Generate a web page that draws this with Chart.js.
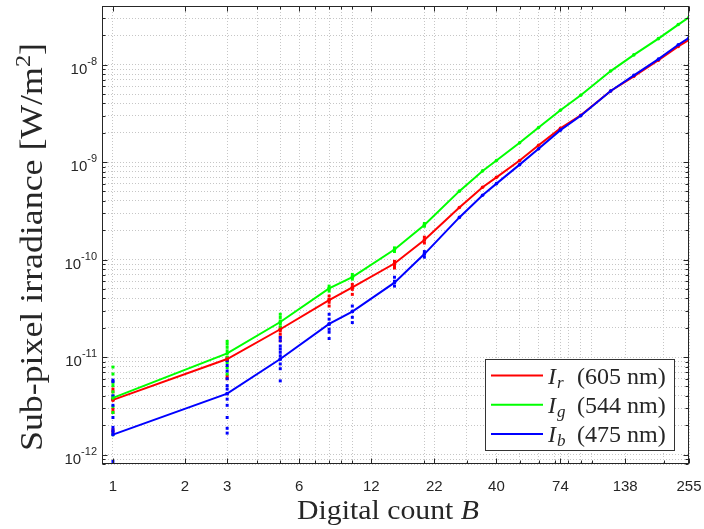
<!DOCTYPE html>
<html>
<head>
<meta charset="utf-8">
<script src="https://cdn.jsdelivr.net/npm/chart.js@4.4.1/dist/chart.umd.min.js"></script>
<style>
    html, body { margin: 0; padding: 0; background: #fff; }
    #wrap { width: 704px; height: 529px; }
</style>
</head>
<body>
<div id="wrap"><canvas id="chart" width="704" height="529"></canvas></div>
<script>
// digital counts where the mean irradiance was measured
const digitalCounts = [1, 3, 5, 8, 10, 15, 20, 28, 35, 40, 50, 60, 74, 90, 120, 150, 190, 230, 255];

// mean sub-pixel irradiance per channel [W/m^2]
const irradianceRed = [3.64e-12, 9.55e-12, 1.93e-11, 3.85e-11, 5.19e-11, 9.12e-11, 1.59e-10, 3.43e-10, 5.52e-10, 6.98e-10,
    1.04e-9, 1.49e-9, 2.22e-9, 3.03e-9, 5.37e-9, 7.59e-9, 1.11e-8, 1.54e-8, 1.80e-8];
const irradianceGreen = [3.81e-12, 1.09e-11, 2.29e-11, 5.07e-11, 6.61e-11, 1.27e-10, 2.27e-10, 5.04e-10, 8.13e-10, 1.04e-9,
    1.58e-9, 2.27e-9, 3.41e-9, 4.86e-9, 8.6e-9, 1.26e-8, 1.85e-8, 2.58e-8, 3.06e-8];
const irradianceBlue = [1.60e-12, 4.22e-12, 9.55e-12, 2.19e-11, 2.93e-11, 5.80e-11, 1.14e-10, 2.71e-10, 4.57e-10, 6.02e-10,
    9.43e-10, 1.37e-9, 2.13e-9, 2.99e-9, 5.37e-9, 7.78e-9, 1.14e-8, 1.60e-8, 1.89e-8];

// individual sub-pixel readings at the low counts
const spreadCounts = [1, 3, 5, 8, 10, 15, 20];
const spreadRed = [
    [4.7e-12, 4.4e-12, 3.6e-12, 2.9e-12, 2.7e-12, 1.8e-12, 1.7e-12],
    [9.9e-12, 9.55e-12, 9.2e-12, 6.4e-12, 6.0e-12],
    [2.01e-11, 1.86e-11, 1.72e-11, 1.6e-11, 1.47e-11],
    [4.23e-11, 3.9e-11, 3.65e-11, 3.34e-11],
    [5.57e-11, 5.2e-11, 4.95e-11, 4.4e-11],
    [9.6e-11, 9.1e-11, 8.6e-11, 8.2e-11],
    [1.7e-10, 1.59e-10, 1.48e-10],
];
const spreadGreen = [
    [7.9e-12, 6.7e-12, 5.5e-12, 5.1e-12, 4.4e-12, 4.0e-12, 3.7e-12, 3.1e-12, 2.7e-12, 1.6e-12],
    [1.45e-11, 1.36e-11, 1.26e-11, 1.16e-11, 1.0e-11, 8.8e-12, 7.8e-12, 6.7e-12],
    [2.75e-11, 2.55e-11, 2.35e-11, 2.17e-11, 2.01e-11],
    [5.35e-11, 5.07e-11, 4.75e-11],
    [7.05e-11, 6.6e-11, 6.3e-11],
    [1.32e-10, 1.27e-10, 1.21e-10],
    [2.35e-10, 2.27e-10, 2.2e-10],
];
const spreadBlue = [
    [5.8e-12, 5.6e-12, 4.0e-12, 3.7e-12, 3.2e-12, 2.4e-12, 1.9e-12, 1.77e-12, 1.7e-12, 8.5e-13],
    [9.2e-12, 8.2e-12, 7.2e-12, 6.0e-12, 5.1e-12, 4.7e-12, 4.2e-12, 3.7e-12, 3.2e-12, 2.4e-12, 1.86e-12, 1.66e-12],
    [1.59e-11, 1.47e-11, 1.3e-11, 1.21e-11, 1.12e-11, 1.03e-11, 9.5e-12, 8.5e-12, 7.6e-12, 5.7e-12],
    [2.75e-11, 2.45e-11, 2.17e-11, 1.93e-11, 1.8e-11, 1.55e-11],
    [3.34e-11, 2.95e-11, 2.56e-11, 2.26e-11],
    [6.6e-11, 6.0e-11, 5.35e-11],
    [1.21e-10, 1.14e-10, 1.06e-10],
];

const xTickLabels = [1, 2, 3, 6, 12, 22, 40, 74, 138, 255];
const yDecades = [-12, -11, -10, -9, -8];
const legendNames = [["r", "605"], ["g", "544"], ["b", "475"]];

const X_MIN = 0.9, X_MAX = 255;
const Y_MIN = 8e-13, Y_MAX = 4e-8;

const AXIS_COLOR = "#262626";
const GRID_COLOR = "#c6c6c6";
const SANS = "'Liberation Sans', Arial, sans-serif";
const SERIF = "'Liberation Serif', 'Times New Roman', serif";

// log grid: 1..9 per decade plus the labelled counts
const xGrid = [...new Set([1, 2, 3, 4, 5, 6, 7, 8, 9, 10, 20, 30, 40, 50, 60, 70, 80, 90, 100, 200, ...xTickLabels])]
    .filter(v => v >= X_MIN && v <= X_MAX)
    .sort((a, b) => a - b);

const yGrid = [];
for (let k = -13; k <= -8; k++) {
    for (let m = 1; m <= 9; m++) {
        const v = m * Math.pow(10, k);
        if (v >= Y_MIN && v <= Y_MAX) yGrid.push(v);
    }
}

function toPoints(xs, ys) {
    return xs.map((x, i) => ({ x, y: ys[i] }));
}

function spreadPoints(spread) {
    const pts = [];
    spread.forEach((vals, i) => vals.forEach(v => pts.push({ x: spreadCounts[i], y: v })));
    return pts;
}

function meanLine(label, color, values, order) {
    return {
        label,
        data: toPoints(digitalCounts, values),
        borderColor: color,
        backgroundColor: color,
        borderWidth: 2,
        pointRadius: 1.8,
        pointBorderWidth: 0,
        pointBackgroundColor: color,
        tension: 0,
        order,
    };
}

function spreadDots(color, spread, order) {
    return {
        data: spreadPoints(spread),
        showLine: false,
        pointStyle: "rect",
        pointRadius: 2.1,
        pointBorderWidth: 0,
        pointBackgroundColor: color,
        order,
    };
}

function drawSuperText(ctx, parts, x, y) {
    // parts: [{ text, font, dy }] drawn left to right
    let cx = x;
    for (const p of parts) {
        ctx.font = p.font;
        ctx.fillText(p.text, cx, y + (p.dy || 0));
        cx += ctx.measureText(p.text).width + (p.gap || 0);
    }
    return cx;
}

function partsWidth(ctx, parts) {
    let w = 0;
    for (const p of parts) {
        ctx.font = p.font;
        w += ctx.measureText(p.text).width + (p.gap || 0);
    }
    return w;
}

// centred title, stretched sideways to the given width
function drawTitle(ctx, parts, cx, cy, width, angle) {
    ctx.save();
    ctx.translate(cx, cy);
    ctx.rotate(angle);
    const w = partsWidth(ctx, parts);
    ctx.scale(width / w, 1);
    drawSuperText(ctx, parts, -w / 2, 0);
    ctx.restore();
}

const frame = {
    id: "frame",
    afterDraw(chart) {
        const { ctx, chartArea: a, scales: { x, y } } = chart;
        const L = Math.round(a.left) + 0.5, R = Math.round(a.right) - 0.5;
        const T = Math.round(a.top) + 0.5, B = Math.round(a.bottom) - 0.5;

        ctx.save();
        ctx.strokeStyle = AXIS_COLOR;
        ctx.lineWidth = 1;
        ctx.strokeRect(L, T, R - L, B - T);

        // inward ticks on all four sides
        ctx.beginPath();
        xGrid.forEach(v => {
            const px = Math.round(x.getPixelForValue(v)) + 0.5;
            const len = xTickLabels.includes(v) ? 5 : 3;
            ctx.moveTo(px, B); ctx.lineTo(px, B - len);
            ctx.moveTo(px, T); ctx.lineTo(px, T + len);
        });
        yGrid.forEach(v => {
            const py = Math.round(y.getPixelForValue(v)) + 0.5;
            const len = Math.abs(Math.log10(v) - Math.round(Math.log10(v))) < 1e-9 ? 5 : 3;
            ctx.moveTo(L, py); ctx.lineTo(L + len, py);
            ctx.moveTo(R, py); ctx.lineTo(R - len, py);
        });
        ctx.stroke();

        // x tick labels
        ctx.fillStyle = AXIS_COLOR;
        ctx.font = `15px ${SANS}`;
        ctx.textAlign = "center";
        ctx.textBaseline = "alphabetic";
        xTickLabels.forEach(v => ctx.fillText(String(v), x.getPixelForValue(v), 491));

        // y tick labels as 10^k
        ctx.textAlign = "left";
        yDecades.forEach(k => {
            const py = y.getPixelForValue(Math.pow(10, k));
            const base = { text: "10", font: `15px ${SANS}`, dy: 9 };
            const exp = { text: String(k), font: `11px ${SANS}`, dy: 0 };
            const w = partsWidth(ctx, [base, exp]);
            drawSuperText(ctx, [base, exp], 97 - w, py);
        });

        // axis titles
        ctx.fillStyle = AXIS_COLOR;
        drawTitle(ctx, [
            { text: "Digital count ", font: `28px ${SERIF}` },
            { text: "B", font: `italic 28px ${SERIF}` },
        ], 388, 519, 182, 0);

        drawTitle(ctx, [
            { text: "Sub-pixel irradiance [W/m", font: `31px ${SERIF}` },
            { text: "2", font: `21px ${SERIF}`, dy: -12 },
            { text: "]", font: `31px ${SERIF}` },
        ], 42, 247, 408, -Math.PI / 2);

        // legend box
        const box = { left: 485.5, top: 359.5, right: 674.5, bottom: 450.5 };
        ctx.fillStyle = "#fff";
        ctx.fillRect(box.left, box.top, box.right - box.left, box.bottom - box.top);
        ctx.strokeStyle = "#333";
        ctx.strokeRect(box.left, box.top, box.right - box.left, box.bottom - box.top);

        const lines = chart.data.datasets.filter(d => d.label);
        lines.forEach((d, i) => {
            const ly = 375.5 + i * 29.3;
            ctx.strokeStyle = d.borderColor;
            ctx.lineWidth = 2;
            ctx.beginPath();
            ctx.moveTo(491, ly);
            ctx.lineTo(543, ly);
            ctx.stroke();

            const [sub, nm] = legendNames[i];
            ctx.fillStyle = AXIS_COLOR;
            drawSuperText(ctx, [
                { text: "I", font: `italic 24px ${SERIF}`, gap: 1 },
                { text: sub, font: `italic 17px ${SERIF}`, dy: 4 },
            ], 548, ly + 8);
            ctx.font = `24px ${SERIF}`;
            ctx.fillText(`(${nm} nm)`, 577, ly + 8);
        });
        ctx.restore();
    },
};

const gridOpts = { color: GRID_COLOR, lineWidth: 1, drawTicks: false };
const borderOpts = { display: false, dash: [1, 2] };

new Chart(document.getElementById("chart"), {
    type: "line",
    data: {
        datasets: [
            meanLine("Ir (605 nm)", "#ff0000", irradianceRed, 3),
            meanLine("Ig (544 nm)", "#00ff00", irradianceGreen, 2),
            meanLine("Ib (475 nm)", "#0000ff", irradianceBlue, 1),
            spreadDots("#ff0000", spreadRed, 6),
            spreadDots("#00ff00", spreadGreen, 5),
            spreadDots("#0000ff", spreadBlue, 4),
        ],
    },
    options: {
        responsive: false,
        animation: false,
        devicePixelRatio: 1,
        layout: { padding: { left: 102, right: 15, top: 6, bottom: 65 } },
        plugins: {
            legend: { display: false },
            tooltip: { enabled: false },
        },
        scales: {
            x: {
                type: "logarithmic",
                min: X_MIN,
                max: X_MAX,
                afterBuildTicks: scale => { scale.ticks = xGrid.map(v => ({ value: v })); },
                ticks: { display: false },
                grid: gridOpts,
                border: borderOpts,
            },
            y: {
                type: "logarithmic",
                min: Y_MIN,
                max: Y_MAX,
                afterBuildTicks: scale => { scale.ticks = yGrid.map(v => ({ value: v })); },
                ticks: { display: false },
                grid: gridOpts,
                border: borderOpts,
            },
        },
    },
    plugins: [frame],
});
</script>
</body>
</html>
